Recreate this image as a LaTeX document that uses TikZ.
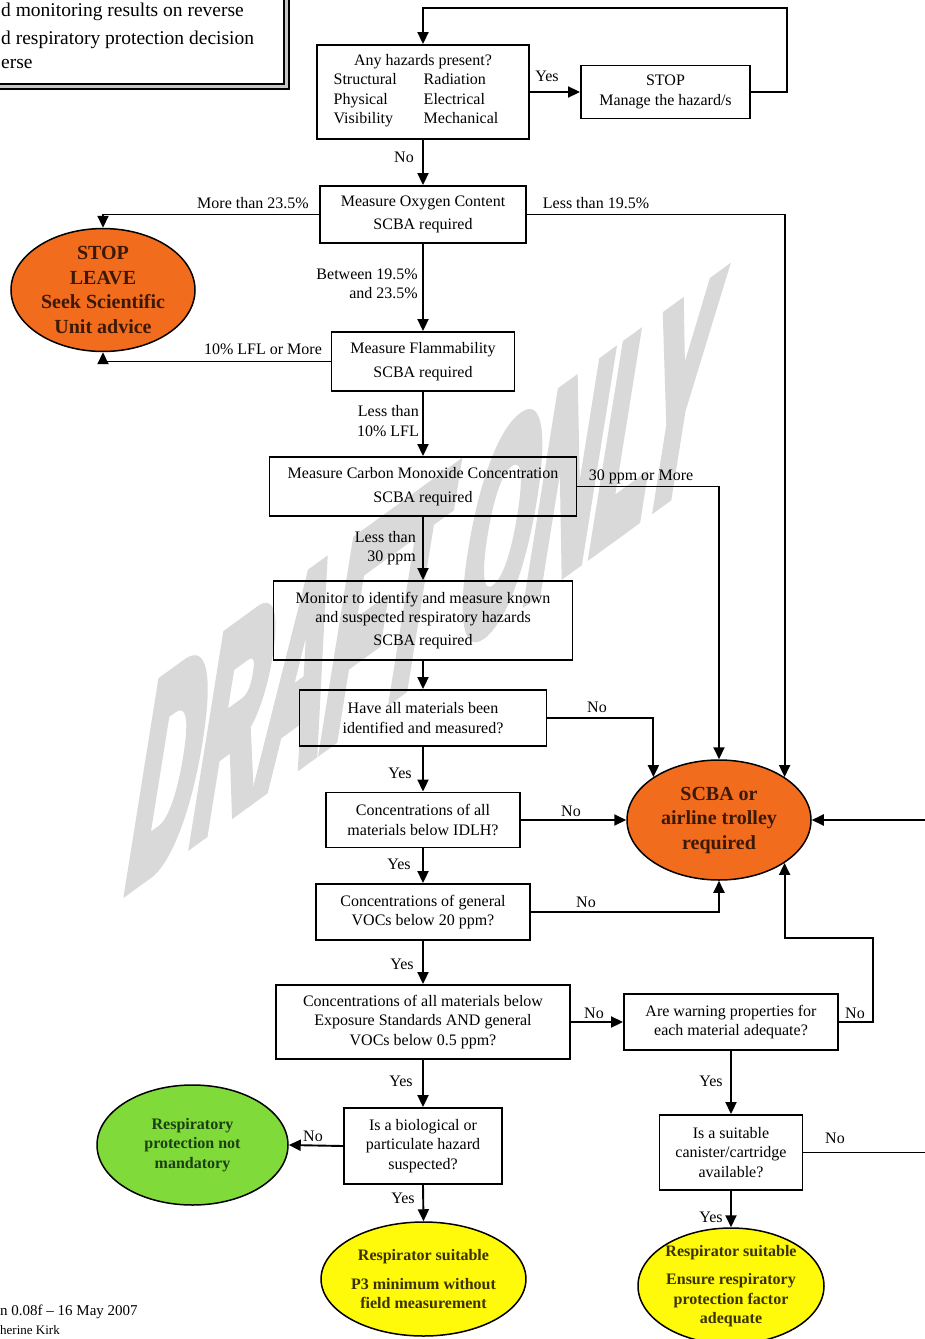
\documentclass[tikz,border=0pt]{standalone}
\usepackage{fontspec}
\setmainfont{Liberation Serif}
\newfontfamily\wmfont[BoldFeatures={FakeBold=7}]{Liberation Sans}
\usetikzlibrary{shapes.geometric,arrows.meta}
\definecolor{wmgray}{RGB}{217,217,217}
\definecolor{stoporange}{RGB}{242,108,30}
\definecolor{stoptext}{RGB}{60,25,5}
\definecolor{okgreen}{RGB}{128,218,58}
\definecolor{oktext}{RGB}{28,62,20}
\definecolor{respyellow}{RGB}{255,250,10}
\definecolor{resptext}{RGB}{58,50,0}

\begin{document}
\begin{tikzpicture}[x=1pt,y=-1pt,
  box/.style={draw,rectangle,line width=1.9pt,align=center,inner sep=0pt,font=\fontsize{16}{19.5}\selectfont},
  oval/.style={draw,ellipse,line width=1.5pt,align=center,inner sep=0pt},
  lbl/.style={inner sep=0pt,font=\fontsize{16}{19.5}\selectfont},
  flow/.style={line width=1.9pt,-{Triangle[length=12pt,width=11pt]}}]
\clip (0,0) rectangle (925,1339);
% watermark
\node [text=wmgray,inner sep=0pt,anchor=base west,font=\wmfont\bfseries\fontsize{290}{290}\selectfont,
  cm={0.31,0.225,0.16,1,(0,0)}] (draft) at (122,890) {DRAFT ONLY};
% note box, top left
\draw [line width=1.2pt,fill=gray!45] (-5,-5) rectangle (289,89);
\draw [line width=1.2pt,fill=white] (-5,-5) rectangle (284,84);
\node [anchor=west,inner sep=0pt,font=\fontsize{19.5}{24}\selectfont] (note1) at (1,12) {d monitoring results on reverse};
\node [anchor=west,inner sep=0pt,font=\fontsize{19.5}{24}\selectfont] (note2) at (1,40) {d respiratory protection decision};
\node [anchor=west,inner sep=0pt,font=\fontsize{19.5}{24}\selectfont] (note3) at (1,64) {erse};
% main column
\node [box,minimum width=212,minimum height=94] (hazards) at(423,92){Any hazards present?\\
  \begin{tabular}[t]{@{}l@{\hspace{27pt}}l@{}}Structural&Radiation\\Physical&Electrical\\Visibility&Mechanical\end{tabular}\hspace*{14pt}};
\node [box,minimum width=169,minimum height=53] (stopbox) at(665.5,92){STOP\\Manage the hazard/s};
\node [box,minimum width=206,minimum height=57] (oxygen) at(423,214.5){Measure Oxygen Content\\[4pt]SCBA required};
\node [box,minimum width=183,minimum height=59] (flam) at(423,361.5){Measure Flammability\\[4pt]SCBA required};
\node [box,minimum width=307,minimum height=59] (co) at(423,486.5){Measure Carbon Monoxide Concentration\\[4pt]SCBA required};
\node [box,minimum width=299,minimum height=79] (monitor) at(423,620.5){Monitor to identify and measure known\\and suspected respiratory hazards\\[3.5pt]SCBA required};
\node [box,minimum width=247,minimum height=56] (haveall) at(423,718){Have all materials been\\identified and measured?};
\node [box,minimum width=194,minimum height=55] (idlh) at(423,820){Concentrations of all\\materials below IDLH?};
\node [box,minimum width=214,minimum height=56] (voc) at(423,912){Concentrations of general\\VOCs below 20 ppm?};
\node [box,minimum width=294,minimum height=74] (expstd) at(423,1022){Concentrations of all materials below\\Exposure Standards AND general\\VOCs below 0.5 ppm?};
\node [box,minimum width=158,minimum height=76] (bio) at(423,1146){Is a biological or\\particulate hazard\\suspected?};
\node [box,minimum width=214,minimum height=56] (warn) at(731,1022){Are warning properties for\\each material adequate?};
\node [box,minimum width=143,minimum height=75] (canister) at(731,1152.5){Is a suitable\\canister/cartridge\\available?};
% end points
\node [oval,fill=stoporange,text=stoptext,minimum width=184,minimum height=120,font=\bfseries\fontsize{20}{24.5}\selectfont] (stopleave) at(103,290){STOP\\LEAVE\\Seek Scientific\\Unit advice};
\node [oval,fill=stoporange,text=stoptext,minimum width=184,minimum height=120,font=\bfseries\fontsize{20}{24.5}\selectfont] (scba) at(719,820){SCBA or\\airline trolley\\required};
\node [oval,fill=okgreen,text=oktext,minimum width=191,minimum height=120,font=\bfseries\fontsize{16}{19.5}\selectfont] (notmand) at(192.5,1145){Respiratory\\protection not\\mandatory};
\node [oval,fill=respyellow,text=resptext,minimum width=185,minimum height=114,font=\bfseries\fontsize{16}{19.5}\selectfont] (pthree) at(423.5,1279){Respirator suitable\\[9.5pt]P3 minimum without\\field measurement};
\node [oval,fill=respyellow,text=resptext,minimum width=186,minimum height=116,font=\bfseries\fontsize{16}{19.5}\selectfont] (ensure) at(731,1286){Respirator suitable\\[9pt]Ensure respiratory\\protection factor\\adequate};
% bend points
\coordinate (loop) at (787,8);
\coordinate (warnup) at (873,938);
\coordinate (offright) at (945,1152.5);
% connectors
\draw[flow](hazards.east) -- (stopbox.west);
\draw[flow](stopbox.east) -| (loop) -| (hazards.north);
\draw[flow](hazards.south) -- (oxygen.north);
\draw[flow](oxygen.west) -| (stopleave.north);
\draw[flow](oxygen.east) -| (scba.north east);
\draw[flow](oxygen.south) -- (flam.north);
\draw[flow](flam.west) -| (stopleave.south);
\draw[flow](flam.south) -- (co.north);
\draw[flow](co.east) -| (scba.north);
\draw[flow](co.south) -- (monitor.north);
\draw[flow](monitor.south) -- (haveall.north);
\draw[flow](haveall.east) -| (scba.north west);
\draw[flow](haveall.south) -- (idlh.north);
\draw[flow](idlh.east) -- (scba.west);
\draw[flow](idlh.south) -- (voc.north);
\draw[flow](voc.east) -| (scba.south);
\draw[flow](voc.south) -- (expstd.north);
\draw[flow](expstd.east) -- (warn.west);
\draw[flow](warn.east) -| (warnup) -| (scba.south east);
\draw[flow](warn.south) -- (canister.north);
\draw[flow](canister.east) -- (offright) |- (scba.east);
\draw[flow](canister.south) -- (ensure.north);
\draw[flow](expstd.south) -- (bio.north);
\draw[flow](bio.west) -- (notmand.east);
\draw[flow](bio.south) -- (pthree.north);
% connector labels
\node [lbl] (lyes1) at(547,76){Yes};
\node [lbl] (lno1) at(404,157){No};
\node [lbl] (lmore) at(253,203){More than 23.5\%};
\node [lbl] (lless) at(596,203){Less than 19.5\%};
\node [lbl,anchor=east,align=right] (lbetween) at(418,284){Between 19.5\%\\and 23.5\%};
\node [lbl] (llfl) at(263,349){10\% LFL or More};
\node [lbl,anchor=east,align=right] (llesslfl) at(419,421){Less than\\10\% LFL};
\node [lbl] (lppm) at(641,477){30 ppm or More};
\node [lbl,anchor=east,align=right] (llessppm) at(416,548){Less than\\30 ppm};
\node [lbl] (lno2) at(597,707){No};
\node [lbl] (lyes2) at(400,773){Yes};
\node [lbl] (lno3) at(571,811){No};
\node [lbl] (lyes3) at(399,864){Yes};
\node [lbl] (lno4) at(586,902){No};
\node [lbl] (lyes4) at(402,964){Yes};
\node [lbl] (lno5) at(594,1013){No};
\node [lbl] (lno6) at(855,1013){No};
\node [lbl] (lyes5) at(711,1081){Yes};
\node [lbl] (lno7) at(835,1138){No};
\node [lbl] (lyes6) at(711,1217){Yes};
\node [lbl] (lyes7) at(401,1081){Yes};
\node [lbl] (lno8) at(313,1136){No};
\node [lbl] (lyes8) at(403,1198){Yes};
% version note, bottom left
\node [anchor=west,inner sep=0pt,font=\fontsize{15}{18}\selectfont] (version) at(0,1312){n 0.08f -- 16 May 2007};
\node [anchor=west,inner sep=0pt,font=\fontsize{13}{16}\selectfont] (author) at(0,1330){herine Kirk};
\end{tikzpicture}
\end{document}
